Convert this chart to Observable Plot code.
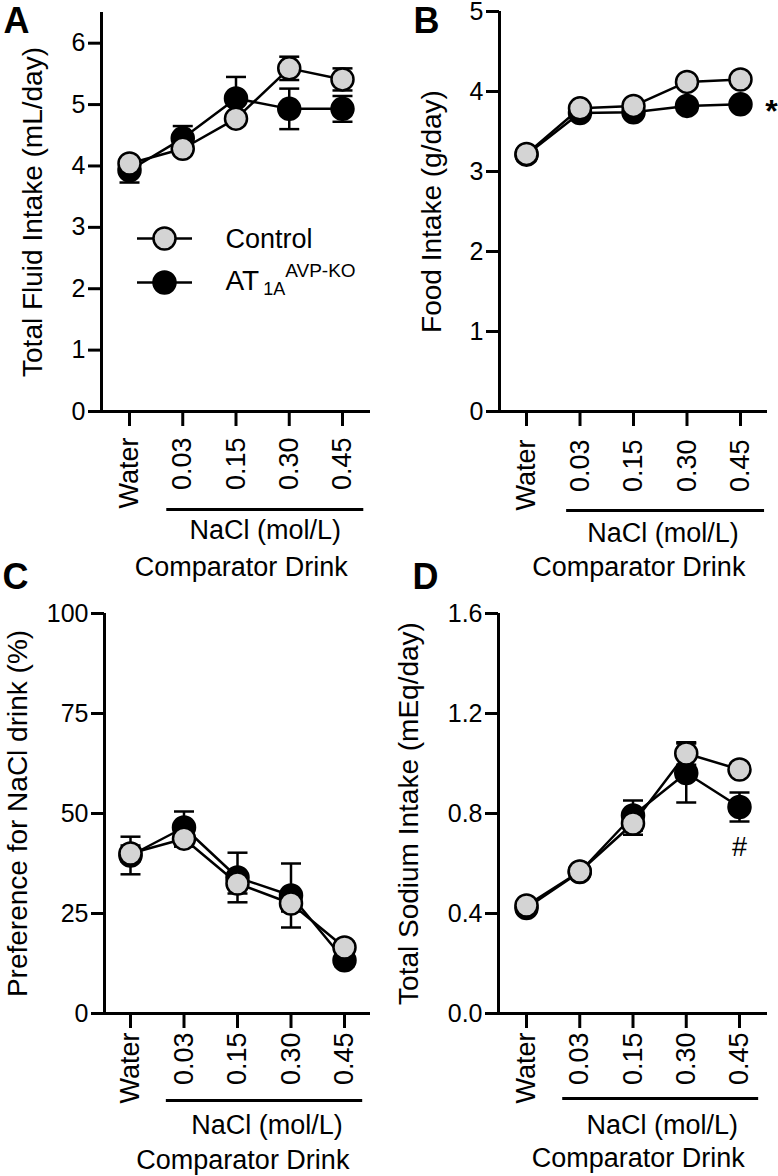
<!DOCTYPE html>
<html><head><meta charset="utf-8">
<script src="https://cdn.jsdelivr.net/npm/d3@7"></script>
<script src="https://cdn.jsdelivr.net/npm/@observablehq/plot@0.6"></script>
<style>
body{margin:0;background:#fff;}
#fig{position:relative;width:778px;height:1176px;background:#fff;}
#fig svg{position:absolute;overflow:visible;}
</style></head><body><div id="fig"></div>
<script>
// ---- data ----
const categories = ["Water", "0.03", "0.15", "0.30", "0.45"];
const groups = ["Control", "AT1A AVP-KO"];

// A: Total fluid intake (mL/day)
const fluidControl    = [4.04, 4.28, 4.77, 5.59, 5.41];
const fluidControlSem = [0.08, 0.07, 0.09, 0.19, 0.18];
const fluidKO         = [3.93, 4.45, 5.10, 4.93, 4.93];
const fluidKOSem      = [0.20, 0.20, 0.35, 0.33, 0.21];
const fluidTicks = [0, 1, 2, 3, 4, 5, 6];

// B: Food intake (g/day)
const foodControl    = [3.22, 3.79, 3.82, 4.12, 4.15];
const foodControlSem = [0.04, 0.04, 0.04, 0.05, 0.05];
const foodKO         = [3.21, 3.73, 3.74, 3.82, 3.84];
const foodKOSem      = [0.04, 0.04, 0.04, 0.05, 0.05];
const foodTicks = [0, 1, 2, 3, 4, 5];

// C: Preference for NaCl drink (%)
const prefControl    = [40.0, 43.7, 32.5, 27.5, 16.5];
const prefControlSem = [2.0, 2.0, 2.5, 2.0, 1.5];
const prefKO         = [39.5, 46.5, 34.0, 29.5, 13.3];
const prefKOSem      = [4.7, 4.0, 6.2, 8.0, 1.5];
const prefTicks = [0, 25, 50, 75, 100];

// D: Total sodium intake (mEq/day)
const sodiumControl    = [0.432, 0.568, 0.760, 1.040, 0.976];
const sodiumControlSem = [0.010, 0.010, 0.045, 0.045, 0.020];
const sodiumKO         = [0.422, 0.566, 0.792, 0.962, 0.826];
const sodiumKOSem      = [0.010, 0.010, 0.060, 0.118, 0.058];
const sodiumTicks = [0, 0.4, 0.8, 1.2, 1.6];

// ---- drawing ----
const FONT = '"Liberation Sans", Arial, Helvetica, sans-serif';
const GRAY = "#d4d4d4";
const hline = {draw(ctx, size) { const r = Math.sqrt(size / Math.PI); ctx.moveTo(-r, 0); ctx.lineTo(r, 0); }};
const legendLine = {draw(c) { c.moveTo(-27.5, 0); c.lineTo(27.5, 0); }};

function rows(ctrl, ctrlSem, ko, koSem) {
  return {
    ko: ko.map((v, i) => ({i, v, sem: koSem[i]})),
    ct: ctrl.map((v, i) => ({i, v, sem: ctrlSem[i]}))
  };
}

function seriesMarks(g, fill) {
  return [
    Plot.ruleX(g, {x: "i", y1: d => d.v - d.sem, y2: d => d.v + d.sem, stroke: "black", strokeWidth: 2.5}),
    Plot.dot(g, {x: "i", y: d => d.v - d.sem, symbol: hline, r: 10, fill: "none", stroke: "black", strokeWidth: 2.5}),
    Plot.dot(g, {x: "i", y: d => d.v + d.sem, symbol: hline, r: 10, fill: "none", stroke: "black", strokeWidth: 2.5}),
    Plot.line(g, {x: "i", y: "v", stroke: "black", strokeWidth: 2.5}),
    Plot.dot(g, {x: "i", y: "v", r: 11, fill, stroke: "black", strokeWidth: 2.5})
  ];
}

function panel(cfg) {
  const d = rows(...cfg.data);
  const p = cfg.pad;
  const marks = [
    Plot.ruleX([-p], {stroke: "black", strokeWidth: 3}),
    Plot.ruleY([0], {stroke: "black", strokeWidth: 3}),
    Plot.axisY({ticks: cfg.yTicks, tickFormat: cfg.yFormat, tickSize: 13, tickPadding: 3, strokeWidth: 3, fontSize: 25, label: null}),
    Plot.axisX({ticks: [0, 1, 2, 3, 4], tickFormat: i => categories[i], tickRotate: -90, tickSize: 15, tickPadding: cfg.tickPad, strokeWidth: 3, fontSize: 27, label: null}),
    Plot.ruleY([0], {x1: cfg.under[0], x2: cfg.under[1], dy: cfg.under[2], stroke: "black", strokeWidth: 3}),
    Plot.text(["NaCl (mol/L)"], {x: 2.55, y: 0, dy: cfg.nacl, fontSize: 27}),
    Plot.text(["Comparator Drink"], {x: 2.1, y: 0, dy: cfg.comp, fontSize: 27}),
    Plot.text([cfg.title], {frameAnchor: "left", textAnchor: "middle", lineAnchor: "middle", rotate: -90, dx: cfg.titleDx, fontSize: 28}),
    Plot.text([cfg.letter], {frameAnchor: "top-left", textAnchor: "middle", lineAnchor: "middle", dx: cfg.letterPos[0], dy: cfg.letterPos[1], fontSize: 36, fontWeight: "bold"}),
    ...seriesMarks(d.ko, "black"),
    ...seriesMarks(d.ct, GRAY),
    ...(cfg.extra ? cfg.extra(d) : [])
  ];
  const svg = Plot.plot({
    width: cfg.w, height: cfg.h,
    marginLeft: cfg.m[0], marginRight: cfg.m[1], marginTop: cfg.m[2], marginBottom: cfg.m[3],
    x: {type: "linear", domain: [-p, 4 + p]},
    y: {type: "linear", domain: cfg.yDomain},
    style: {fontFamily: FONT, color: "black", background: "white", overflow: "visible"},
    marks
  });
  svg.style.left = cfg.pos[0] + "px";
  svg.style.top = cfg.pos[1] + "px";
  document.getElementById("fig").appendChild(svg);
  return svg;
}

// Panel A with legend
const svgA = panel({
  data: [fluidControl, fluidControlSem, fluidKO, fluidKOSem],
  yDomain: [0, 6.5], yTicks: fluidTicks, yFormat: d3.format("d"),
  pad: 0.526, tickPad: 11, under: [0.7, 4.4, 98], nacl: 119, comp: 156,
  title: "Total Fluid Intake (mL/day)", titleDx: -68, letter: "A", letterPos: [-85, 8.5],
  w: 389, h: 590, m: [101, 19, 12, 179], pos: [0, 0],
  extra: () => [
    Plot.dot([groups[0]], {frameAnchor: "top-left", dx: 63, dy: 226, symbol: legendLine, fill: "none", stroke: "black", strokeWidth: 2.5}),
    Plot.dot([groups[0]], {frameAnchor: "top-left", dx: 63, dy: 226, r: 11, fill: GRAY, stroke: "black", strokeWidth: 2.5}),
    Plot.text([groups[0]], {frameAnchor: "top-left", textAnchor: "start", lineAnchor: "middle", dx: 124, dy: 227, fontSize: 27}),
    Plot.dot([groups[1]], {frameAnchor: "top-left", dx: 63, dy: 270, symbol: legendLine, fill: "none", stroke: "black", strokeWidth: 2.5}),
    Plot.dot([groups[1]], {frameAnchor: "top-left", dx: 63, dy: 270, r: 11, fill: "black", stroke: "black", strokeWidth: 2.5}),
    Plot.text(["AT"], {frameAnchor: "top-left", textAnchor: "start", lineAnchor: "middle", dx: 124, dy: 269, fontSize: 28})
  ]
});
d3.select(svgA).selectAll("text").filter(function() { return this.textContent === "AT"; })
  .each(function() {
    const t = d3.select(this);
    t.append("tspan").attr("font-size", 18).attr("dx", 4).attr("dy", 5).text("1A");
    t.append("tspan").attr("font-size", 19).attr("dy", -18).text("AVP-KO");
  });

// Panel B
panel({
  data: [foodControl, foodControlSem, foodKO, foodKOSem],
  yDomain: [0, 5], yTicks: foodTicks, yFormat: d3.format("d"),
  pad: 0.505, tickPad: 13, under: [0.75, 4.45, 99], nacl: 122, comp: 156,
  title: "Food Intake (g/day)", titleDx: -67, letter: "B", letterPos: [-73, 9.5],
  w: 389, h: 590, m: [110, 11, 11, 179], pos: [389, 0],
  extra: d => [
    Plot.text(d.ko.filter(r => r.i === 4), {x: "i", y: "v", text: () => "*", dx: 31, dy: 7, fontSize: 32, fontWeight: "bold"})
  ]
});

// Panel C
panel({
  data: [prefControl, prefControlSem, prefKO, prefKOSem],
  yDomain: [0, 100], yTicks: prefTicks, yFormat: d3.format("d"),
  pad: 0.486, tickPad: 4, under: [0.67, 4.34, 87], nacl: 112, comp: 147,
  title: "Preference for NaCl drink (%)", titleDx: -86, letter: "C", letterPos: [-89, -36],
  w: 389, h: 586, m: [104, 19, 23, 163], pos: [0, 590]
});

// Panel D
panel({
  data: [sodiumControl, sodiumControlSem, sodiumKO, sodiumKOSem],
  yDomain: [0, 1.6], yTicks: sodiumTicks, yFormat: d3.format(".1f"),
  pad: 0.526, tickPad: 4, under: [0.68, 4.36, 85], nacl: 112, comp: 145,
  title: "Total Sodium Intake (mEq/day)", titleDx: -89, letter: "D", letterPos: [-73, -36],
  w: 389, h: 586, m: [109, 11, 23, 163], pos: [389, 590],
  extra: d => [
    Plot.text(d.ko.filter(r => r.i === 4), {x: "i", y: "v", text: () => "#", dy: 40, fontSize: 27})
  ]
});
</script></body></html>
